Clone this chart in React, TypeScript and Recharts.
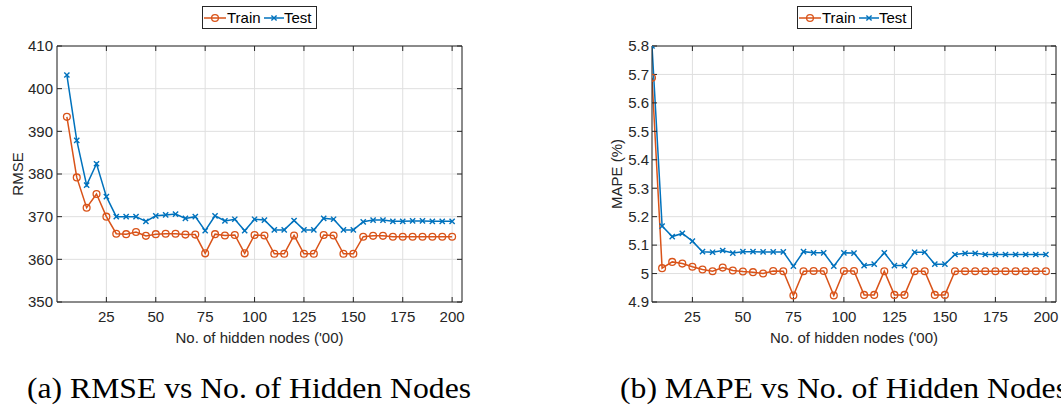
import React from "react";
import { LineChart, Line, XAxis, YAxis, CartesianGrid, Legend } from "recharts";

// hidden nodes ('00)
const NODES = [
  5, 10, 15, 20, 25, 30, 35, 40, 45, 50, 55, 60, 65, 70, 75, 80, 85, 90, 95, 100,
  105, 110, 115, 120, 125, 130, 135, 140, 145, 150, 155, 160, 165, 170, 175, 180, 185, 190, 195, 200,
];

const RMSE_TRAIN = [
  393.4, 379.2, 372.1, 375.3, 370.0, 366.0, 365.9, 366.4, 365.5, 365.9,
  366.0, 366.0, 365.8, 365.8, 361.4, 365.9, 365.6, 365.7, 361.4, 365.7,
  365.6, 361.3, 361.3, 365.6, 361.3, 361.3, 365.7, 365.6, 361.3, 361.3,
  365.3, 365.5, 365.5, 365.3, 365.3, 365.3, 365.3, 365.3, 365.3, 365.3,
];
const RMSE_TEST = [
  403.2, 387.9, 377.4, 382.4, 374.7, 370.0, 370.0, 370.0, 368.9, 370.2,
  370.4, 370.6, 369.6, 370.0, 366.7, 370.2, 369.0, 369.4, 366.7, 369.4,
  369.2, 366.9, 366.9, 369.1, 366.9, 366.9, 369.6, 369.4, 366.9, 366.9,
  368.8, 369.2, 369.2, 368.9, 368.9, 369.0, 369.0, 368.9, 368.9, 368.9,
];

const MAPE_TRAIN = [
  5.688, 5.019, 5.041, 5.035, 5.024, 5.014, 5.008, 5.021, 5.011, 5.007,
  5.005, 5.0, 5.009, 5.008, 4.923, 5.008, 5.009, 5.009, 4.923, 5.009,
  5.009, 4.925, 4.925, 5.008, 4.925, 4.925, 5.008, 5.008, 4.925, 4.925,
  5.008, 5.008, 5.008, 5.008, 5.008, 5.008, 5.008, 5.008, 5.008, 5.008,
];
const MAPE_TEST = [
  5.8, 5.167, 5.13, 5.141, 5.114, 5.077, 5.075, 5.081, 5.072, 5.077,
  5.077, 5.076, 5.076, 5.076, 5.026, 5.077, 5.073, 5.073, 5.026, 5.073,
  5.072, 5.028, 5.033, 5.073, 5.028, 5.028, 5.075, 5.075, 5.033, 5.033,
  5.067, 5.071, 5.071, 5.067, 5.067, 5.067, 5.067, 5.067, 5.067, 5.067,
];

const X_TICKS = [25, 50, 75, 100, 125, 150, 175, 200];
const RMSE_TICKS = [350, 360, 370, 380, 390, 400, 410];
const MAPE_TICKS = [4.9, 5, 5.1, 5.2, 5.3, 5.4, 5.5, 5.6, 5.7, 5.8];

const TRAIN = "#D95319";
const TEST = "#0072BD";
const INK = "#262626";
const GRID = "#dfdfdf";
const FONT = "'Liberation Sans', Arial, Helvetica, sans-serif";
const SERIF = "'Liberation Serif', 'Times New Roman', serif";

const noTick = () => <g />;

function CircleDot(props: any) {
  const { cx, cy, index } = props;
  return <circle key={`c${index}`} cx={cx} cy={cy} r={3.4} fill="none" stroke={TRAIN} strokeWidth={1.3} />;
}

function CrossDot(props: any) {
  const { cx, cy, index } = props;
  const s = 2.6;
  return (
    <path
      key={`x${index}`}
      d={`M${cx - s},${cy - s}L${cx + s},${cy + s}M${cx - s},${cy + s}L${cx + s},${cy - s}`}
      stroke={TEST}
      strokeWidth={1.4}
      fill="none"
    />
  );
}

function LegendBox() {
  return (
    <div
      style={{
        position: "relative",
        width: 113,
        height: 21,
        border: `1px solid ${INK}`,
        background: "#fff",
        fontFamily: FONT,
        fontSize: 15,
        color: "#000",
      }}
    >
      <svg width={22} height={21} style={{ position: "absolute", left: 1, top: 0 }}>
        <line x1={0} x2={22} y1={11} y2={11} stroke={TRAIN} strokeWidth={1.5} />
        <circle cx={11} cy={11} r={3.4} fill="none" stroke={TRAIN} strokeWidth={1.3} />
      </svg>
      <span style={{ position: "absolute", left: 24, top: 1, lineHeight: "19px" }}>Train</span>
      <svg width={20} height={21} style={{ position: "absolute", left: 61, top: 0 }}>
        <line x1={0} x2={20} y1={11} y2={11} stroke={TEST} strokeWidth={1.5} />
        <path d="M7.4,8.4L12.6,13.6M7.4,13.6L12.6,8.4" stroke={TEST} strokeWidth={1.4} />
      </svg>
      <span style={{ position: "absolute", left: 81, top: 1, lineHeight: "19px" }}>Test</span>
    </div>
  );
}

const yTitle = (text: string, x: number) => (props: any) => {
  const vb = props.viewBox || {};
  const cy = (vb.y || 0) + (vb.height || 0) / 2;
  return (
    <text
      x={x}
      y={cy}
      transform={`rotate(-90 ${x} ${cy})`}
      textAnchor="middle"
      dominantBaseline="central"
      fontSize={15}
      fill={INK}
      fontFamily={FONT}
    >
      {text}
    </text>
  );
};

type PanelProps = {
  left: number;
  width: number;
  yAxisWidth: number;
  marginRight: number;
  train: number[];
  test: number[];
  xDomain: [number, number];
  yDomain: [number, number];
  yTicks: number[];
  yLabel: string;
  yLabelX: number;
  legendLeft: number;
  yTickMargin: number;
};

function Panel(p: PanelProps) {
  const data = NODES.map((n, i) => ({ n, train: p.train[i], test: p.test[i] }));
  return (
    <div style={{ position: "absolute", left: p.left, top: 0 }}>
      <LineChart
        width={p.width}
        height={360}
        data={data}
        margin={{ top: 45, right: p.marginRight, bottom: 18, left: 0 }}
        style={{ fontFamily: FONT }}
      >
        <CartesianGrid stroke={GRID} strokeWidth={1} />
        <XAxis
          dataKey="n"
          type="number"
          domain={p.xDomain}
          ticks={X_TICKS}
          interval={0}
          allowDataOverflow
          height={40}
          stroke={INK}
          tickSize={-5}
          tickMargin={14}
          tick={{ fontSize: 15, fill: INK }}
          label={{ value: "No. of hidden nodes ('00)", position: "insideTop", offset: 30, fontSize: 15, fill: INK }}
        />
        <XAxis
          xAxisId="top"
          orientation="top"
          dataKey="n"
          type="number"
          domain={p.xDomain}
          ticks={X_TICKS}
          interval={0}
          allowDataOverflow
          height={1}
          stroke={INK}
          tickSize={-5}
          tick={noTick}
        />
        <YAxis
          type="number"
          domain={p.yDomain}
          ticks={p.yTicks}
          interval={0}
          allowDataOverflow
          width={p.yAxisWidth}
          stroke={INK}
          tickSize={-5}
          tickMargin={p.yTickMargin}
          tick={{ fontSize: 15, fill: INK }}
          tickFormatter={(v) => String(v)}
          label={yTitle(p.yLabel, p.yLabelX)}
        />
        <YAxis
          yAxisId="right"
          orientation="right"
          type="number"
          domain={p.yDomain}
          ticks={p.yTicks}
          interval={0}
          allowDataOverflow
          width={1}
          stroke={INK}
          tickSize={-5}
          tick={noTick}
        />
        <Legend
          layout="vertical"
          align="center"
          verticalAlign="middle"
          wrapperStyle={{ top: 6, left: p.legendLeft, width: 115, height: 23 }}
          content={LegendBox}
        />
        <Line
          dataKey="train"
          type="linear"
          stroke={TRAIN}
          strokeWidth={1.5}
          dot={CircleDot}
          activeDot={false}
          isAnimationActive={false}
        />
        <Line
          dataKey="test"
          type="linear"
          stroke={TEST}
          strokeWidth={1.5}
          dot={CrossDot}
          activeDot={false}
          isAnimationActive={false}
        />
      </LineChart>
    </div>
  );
}

export default function App() {
  return (
    <div
      style={{
        position: "absolute",
        left: 0,
        top: 0,
        width: 1061,
        height: 407,
        background: "#fff",
        overflow: "hidden",
      }}
    >
      <svg width={1061} height={407} style={{ position: "absolute", left: 0, top: 0 }}>
        <text x={27} y={398} fontFamily={SERIF} fontSize={29} fill="#000" textLength={444} lengthAdjust="spacingAndGlyphs">
          (a) RMSE vs No. of Hidden Nodes
        </text>
        <text x={620} y={398} fontFamily={SERIF} fontSize={29} fill="#000" textLength={448} lengthAdjust="spacingAndGlyphs">
          (b) MAPE vs No. of Hidden Nodes
        </text>
      </svg>
      <Panel
        left={0}
        width={480}
        yAxisWidth={57}
        marginRight={17}
        train={RMSE_TRAIN}
        test={RMSE_TEST}
        xDomain={[0, 205]}
        yDomain={[350, 410]}
        yTicks={RMSE_TICKS}
        yLabel="RMSE"
        yLabelX={17}
        legendLeft={202}
        yTickMargin={9}
      />
      <Panel
        left={560}
        width={501}
        yAxisWidth={92}
        marginRight={4}
        train={MAPE_TRAIN}
        test={MAPE_TEST}
        xDomain={[5, 205]}
        yDomain={[4.9, 5.8]}
        yTicks={MAPE_TICKS}
        yLabel="MAPE (%)"
        yLabelX={56}
        legendLeft={237}
        yTickMargin={8}
      />
    </div>
  );
}
